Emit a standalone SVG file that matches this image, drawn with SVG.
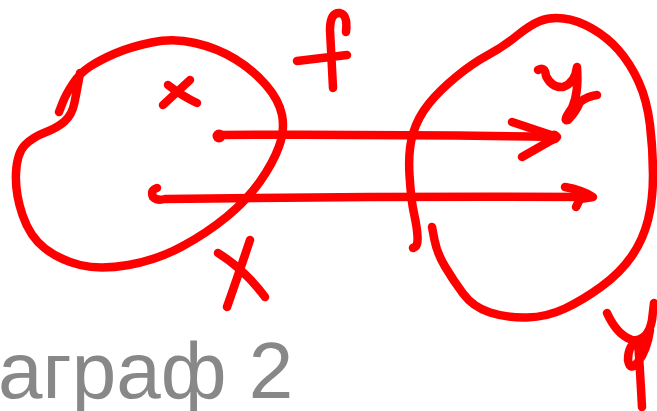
<svg xmlns="http://www.w3.org/2000/svg" width="657" height="411" viewBox="0 0 657 411">
<style>
.s{fill:none;stroke:#ff0000;stroke-width:8.5;stroke-linecap:round;stroke-linejoin:round}
.t{font-family:"Liberation Sans",Arial,sans-serif;fill:#888888}
</style>
<rect width="657" height="411" fill="#ffffff"/>
<g id="setX">
<path class="s" d="M59,112 L62.5,103 Q66,94 73,83.5 Q80,73 90,66.5 Q100,60 115,53.5 Q130,47 151.5,42.5 Q173,38 195,43 Q217,48 235,59 Q253,70 266,85 Q279,100 282,115 Q285,130 279,146.5 Q273,163 260,181.5 Q247,200 227,216.5 Q207,233 182,246.5 Q157,260 128.5,265 Q100,270 80,265 Q60,260 45,248.5 Q30,237 22.5,215 Q15,193 16,173 Q17,153 25,145 Q33,137 45,132.5 Q57,128 64.5,121.5 Q72,115 74.5,102.5 Q77,90 78.5,81.5 L80,73"/>
<path class="s" d="M163,105 L190,80 M168,85 Q182,96 197,103"/>
<path class="s" d="M250,240 Q240,270 227,307 M218,253 Q245,270 265,297"/>
</g>
<g id="setY">
<path class="s" d="M413,248 L415.5,246.5 Q418,245 417.5,236 Q417,227 414,213.5 Q411,200 409.5,175 Q408,150 413,133.5 Q418,117 429,103.5 Q440,90 456.5,76.5 Q473,63 488,55 Q503,47 516.5,36 Q530,25 540,21 Q550,17 563.5,18.5 Q577,20 592,28.5 Q607,37 618.5,50 Q630,63 638.5,81.5 Q647,100 650,125 Q653,150 653,175 Q653,200 648,220 Q643,240 631.5,256.5 Q620,273 601.5,286.5 Q583,300 565,308.5 Q547,317 527,317.5 Q507,318 490,312.5 Q473,307 463,293.5 Q453,280 445,266.5 Q437,253 434.5,240 L432,227"/>
<path class="s" d="M538,70 Q545,66 546,76 Q552,88 563,87 Q575,83 577,67 M577,67 Q579,93 572,108 Q562,122 568,120 Q576,112 580,102 Q588,96 597,95"/>
</g>
<g id="labelF">
<path class="s" d="M346,32 Q348,15 340,13 Q330,12 330,30 L333,88 M297,61 L347,55"/>
</g>
<g id="labelPhi">
<path class="s" d="M607,313 Q617,335 632,340 Q648,342 652,320 L654,303 M650,330 Q647,350 638,362 Q630,372 628,360 Q628,345 638,340 Q640,370 642,407"/>
</g>
<g id="connectors">
<circle cx="219" cy="136" r="6.5" fill="#ff0000"/>
<path class="s" d="M219,135 Q380,134 555,137"/>
<circle cx="554" cy="137" r="6.5" fill="#ff0000"/>
<path class="s" d="M512,122 L557,137 L522,157"/>
<path class="s" d="M157,188 Q150,190 153,197 Q157,201 165,199 Q380,196 591,197"/>
<path class="s" d="M565,187 Q582,190 593,197 L580,199 L576,207"/>
</g>
<text class="t" x="-2" y="398" font-size="80">аграф 2</text>
</svg>
